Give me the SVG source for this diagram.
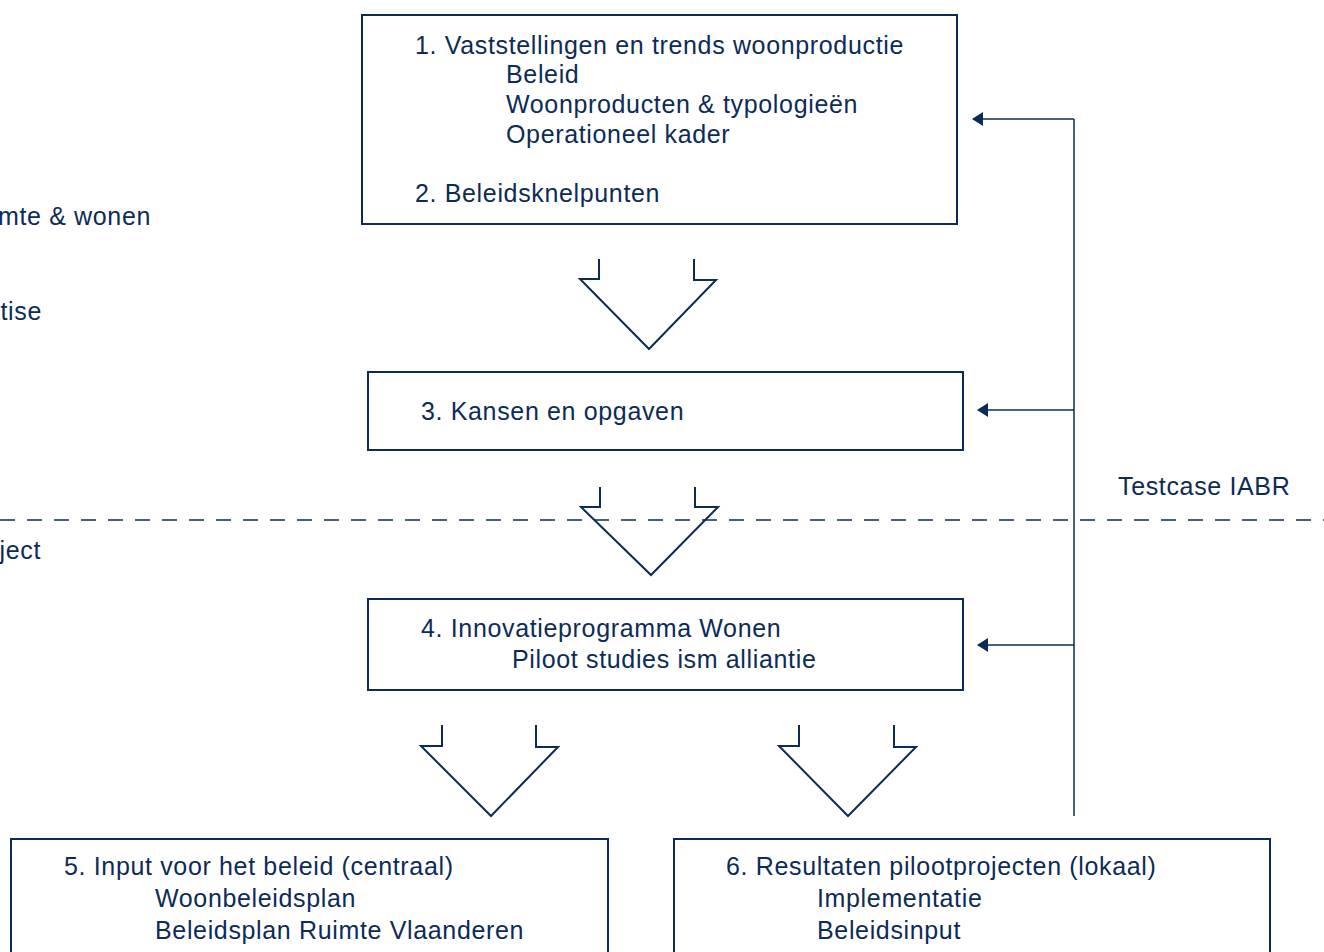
<svg xmlns="http://www.w3.org/2000/svg" width="1324" height="952" viewBox="0 0 1324 952">
  <style>
    .box { fill: #ffffff; stroke: #0d2b57; stroke-width: 2; }
    .big { fill: none; stroke: #0d2b57; stroke-width: 2; stroke-linejoin: miter; }
    .link { fill: none; stroke: #0d2b57; stroke-width: 1.5; }
    .dash { fill: none; stroke: #0d2b57; stroke-width: 1.5; stroke-dasharray: 15 12; }
    text { font-family: "Liberation Sans", Arial, sans-serif; font-size: 25px; letter-spacing: 0.65px; fill: #0d2b57; }
  </style>
  <defs>
    <marker id="head" viewBox="0 0 11 14" refX="10" refY="7" markerWidth="11" markerHeight="14" markerUnits="userSpaceOnUse" orient="auto">
      <path d="M0,0 L11,7 L0,14 Z" fill="#0d2b57"/>
    </marker>
  </defs>
  <rect width="1324" height="952" fill="#ffffff"/>

  <!-- side labels -->
  <g id="side-labels">
    <text x="151" y="225" text-anchor="end">mte &amp; wonen</text>
    <text x="42" y="320" text-anchor="end">tise</text>
    <text x="41" y="559" text-anchor="end">ject</text>
    <text x="1118" y="495">Testcase IABR</text>
  </g>

  <!-- connectors -->
  <g id="connectors">
    <line class="dash" x1="0" y1="520" x2="1324" y2="520"/>
    <path class="link" d="M1074,816 V119"/>
    <path class="link" d="M1074,119 H973" marker-end="url(#head)"/>
    <path class="link" d="M1074,410 H978" marker-end="url(#head)"/>
    <path class="link" d="M1074,645 H978" marker-end="url(#head)"/>
    <path class="big" d="M599,259 V279 H580 L649,349 L716,280 H694 V259"/>
    <path class="big" d="M600,487 V507 H581 L651,575 L718,507 H695 V487"/>
    <path class="big" d="M442,725 V746 H421 L491,816 L558,747 H536 V725"/>
    <path class="big" d="M799,725 V746 H779 L848,816 L916,747 H894 V725"/>
  </g>

  <g id="node1">
    <rect class="box" x="362" y="15" width="595" height="209"/>
    <text x="415" y="54">1. Vaststellingen en trends woonproductie</text>
    <text x="506" y="83">Beleid</text>
    <text x="506" y="113">Woonproducten &amp; typologieën</text>
    <text x="506" y="143">Operationeel kader</text>
    <text x="415" y="202">2. Beleidsknelpunten</text>
  </g>

  <g id="node3">
    <rect class="box" x="368" y="372" width="595" height="78"/>
    <text x="421" y="420">3. Kansen en opgaven</text>
  </g>

  <g id="node4">
    <rect class="box" x="368" y="599" width="595" height="91"/>
    <text x="421" y="637">4. Innovatieprogramma Wonen</text>
    <text x="512" y="668">Piloot studies ism alliantie</text>
  </g>

  <g id="node5">
    <rect class="box" x="11" y="839" width="597" height="130"/>
    <text x="64" y="875">5. Input voor het beleid (centraal)</text>
    <text x="155" y="907">Woonbeleidsplan</text>
    <text x="155" y="939">Beleidsplan Ruimte Vlaanderen</text>
  </g>

  <g id="node6">
    <rect class="box" x="674" y="839" width="596" height="130"/>
    <text x="726" y="875">6. Resultaten pilootprojecten (lokaal)</text>
    <text x="817" y="907">Implementatie</text>
    <text x="817" y="939">Beleidsinput</text>
  </g>
</svg>
